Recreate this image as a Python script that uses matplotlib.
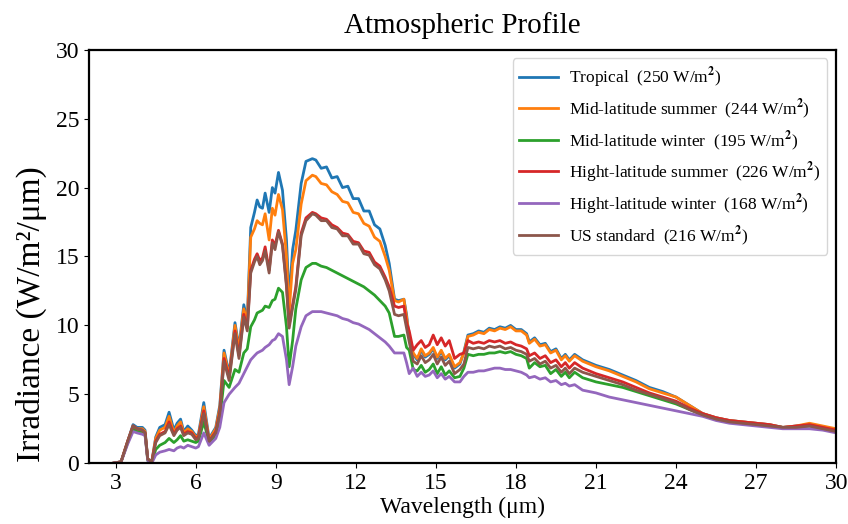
# Plotting script for atmospheric profile irradiance spectra

import numpy as np
import matplotlib.pyplot as plt

plt.rcParams['font.family'] = ['Liberation Serif', 'DejaVu Serif']
plt.rcParams['mathtext.fontset'] = 'stix'

# Wavelength grid (um)
wavelength = [2.9, 3.2, 3.45, 3.65, 3.8, 4.0, 4.1, 4.2, 4.35, 4.5, 4.65, 4.85, 5.0, 5.18, 5.3, 5.43, 5.55, 5.7, 5.85, 6.0, 6.1, 6.3, 6.5, 6.75, 6.9,
              7.06, 7.25, 7.47, 7.62, 7.8, 7.93, 8.06, 8.2, 8.3, 8.4, 8.5, 8.6, 8.75, 8.87, 8.97, 9.1, 9.25, 9.4, 9.5, 9.63, 9.75, 9.95, 10.13, 10.37,
              10.5, 10.7, 10.9, 11.1, 11.3, 11.5, 11.7, 11.9, 12.1, 12.3, 12.5, 12.7, 12.9, 13.1, 13.25, 13.45, 13.6, 13.8, 13.9,
              14.0, 14.15, 14.3, 14.45, 14.6, 14.75, 14.9, 15.05, 15.2, 15.35, 15.5, 15.7, 15.9, 16.05, 16.2, 16.4, 16.6, 16.8, 17.0, 17.2, 17.4, 17.6, 17.8, 18.0, 18.2, 18.4, 18.5, 18.7, 18.9, 19.1, 19.3, 19.5, 19.7, 19.85, 20.0, 20.2,
              20.5, 21, 21.5, 22, 22.5, 23, 23.5, 24, 24.5, 25, 25.5, 26, 26.5, 27, 27.5, 28, 28.5, 29, 29.5, 30]

# Irradiance (W/m2/um) for each profile
tropical = [0.0, 0.1, 1.6, 2.8, 2.6, 2.6, 2.4, 0.3, 0.1, 1.9, 2.6, 2.8, 3.7, 2.4, 2.9, 3.2, 2.3, 2.7, 2.4, 2.0, 2.1, 4.4, 1.8, 2.6, 4.2,
            8.2, 6.5, 10.2, 8.4, 11.5, 10.4, 17.1, 18.2, 19.1, 18.6, 18.5, 19.6, 18.2, 20.0, 19.6, 21.1, 19.8, 16.2, 11.8, 15.5, 16.9, 20.3, 21.9, 22.1,
            22.0, 21.4, 21.5, 20.7, 20.8, 20.0, 20.1, 19.2, 19.2, 18.3, 18.3, 17.3, 17.0, 15.8, 14.5, 11.9, 11.8, 11.9, 10.8,
            9.1, 7.9, 7.5, 8.2, 7.7, 7.9, 8.3, 7.6, 8.1, 7.5, 7.8, 6.9, 7.2, 8.1, 9.3, 9.4, 9.6, 9.5, 9.8, 9.7, 9.9, 9.8, 10.0, 9.7, 9.7, 9.4, 8.8, 9.1, 8.6, 8.7, 8.1, 8.3, 7.6, 7.9, 7.5, 7.9,
            7.5, 7.1, 6.8, 6.4, 6.0, 5.5, 5.2, 4.8, 4.2, 3.6, 3.3, 3.1, 3.0, 2.9, 2.8, 2.6, 2.7, 2.8, 2.6, 2.4]
mid_lat_summer = [0.0, 0.1, 1.6, 2.7, 2.5, 2.5, 2.3, 0.3, 0.1, 1.8, 2.4, 2.6, 3.4, 2.2, 2.7, 3.0, 2.2, 2.5, 2.3, 1.9, 2.0, 4.1, 1.7, 2.5, 4.0,
                  8.0, 6.3, 10.0, 8.2, 11.2, 10.2, 16.4, 17.0, 17.6, 17.4, 17.3, 18.1, 16.2, 18.5, 18.0, 19.5, 18.4, 15.0, 11.0, 14.5, 15.5, 18.8, 20.5, 20.9,
                  20.8, 20.3, 20.2, 19.7, 19.5, 19.0, 18.9, 18.2, 18.1, 17.4, 17.2, 16.4, 16.1, 15.0, 14.0, 11.8, 11.7, 11.9, 10.6,
                  9.2, 8.0, 7.6, 8.3, 7.8, 8.0, 8.4, 7.7, 8.2, 7.6, 7.9, 7.0, 7.3, 8.0, 9.2, 9.3, 9.5, 9.4, 9.7, 9.6, 9.8, 9.7, 9.9, 9.6, 9.6, 9.3, 8.7, 9.0, 8.5, 8.6, 8.0, 8.2, 7.5, 7.8, 7.4, 7.8,
                  7.4, 7.0, 6.7, 6.3, 5.9, 5.4, 5.1, 4.8, 4.2, 3.6, 3.3, 3.1, 3.0, 2.9, 2.8, 2.6, 2.7, 2.9, 2.7, 2.5]
mid_lat_winter = [0.0, 0.1, 1.5, 2.5, 2.3, 2.3, 2.1, 0.2, 0.0, 1.0, 1.3, 1.5, 1.8, 1.5, 1.7, 2.0, 1.6, 1.7, 1.6, 1.5, 1.6, 3.0, 1.5, 2.0, 3.2,
                  6.0, 5.5, 6.8, 6.6, 8.0, 8.3, 9.9, 10.4, 10.9, 11.0, 11.1, 11.4, 11.3, 11.8, 11.9, 12.7, 12.4, 9.9, 7.0, 8.9, 11.2, 13.3, 14.2, 14.5,
                  14.5, 14.3, 14.2, 14.0, 13.8, 13.6, 13.4, 13.2, 13.0, 12.8, 12.5, 12.2, 11.8, 11.4, 10.9, 9.2, 9.2, 9.3, 8.4,
                  8.2, 6.8, 6.7, 7.1, 6.6, 6.8, 7.2, 6.5, 7.0, 6.4, 6.7, 6.2, 6.3, 6.9, 7.9, 7.8, 7.9, 7.9, 8.0, 8.0, 8.1, 8.0, 8.1, 7.9, 7.8, 7.6, 6.9, 7.3, 7.0, 7.1, 6.5, 6.8, 6.3, 6.6, 6.2, 6.6,
                  6.2, 5.9, 5.7, 5.5, 5.2, 4.9, 4.6, 4.3, 3.9, 3.5, 3.2, 3.0, 2.9, 2.8, 2.7, 2.6, 2.6, 2.7, 2.5, 2.3]
high_lat_summer = [0.0, 0.1, 1.6, 2.7, 2.5, 2.4, 2.2, 0.3, 0.1, 1.6, 2.1, 2.3, 3.0, 2.1, 2.5, 2.7, 2.1, 2.3, 2.2, 1.8, 1.9, 3.8, 1.6, 2.3, 3.7,
                   7.6, 6.2, 9.6, 7.8, 10.8, 9.8, 14.0, 14.8, 15.2, 14.7, 14.9, 15.7, 14.0, 16.2, 15.8, 16.9, 15.9, 13.0, 10.0, 11.5, 12.8, 16.7, 17.8, 18.2,
                   18.1, 17.8, 17.7, 17.3, 17.1, 16.7, 16.6, 16.1, 16.0, 15.4, 15.3, 14.6, 14.3, 13.5, 12.8, 11.4, 11.3, 11.4, 10.2,
                   9.6, 8.2, 8.6, 8.9, 8.4, 8.6, 9.3, 8.6, 9.1, 8.5, 8.9, 7.6, 7.9, 8.0, 8.9, 8.7, 8.8, 8.7, 8.9, 8.8, 8.9, 8.7, 8.8, 8.6, 8.5, 8.3, 7.8, 8.0, 7.6, 7.8, 7.3, 7.5, 7.0, 7.3, 6.9, 7.3,
                   6.9, 6.5, 6.2, 5.9, 5.5, 5.1, 4.8, 4.5, 4.0, 3.6, 3.3, 3.1, 3.0, 2.9, 2.8, 2.6, 2.7, 2.8, 2.6, 2.4]
high_lat_winter = [0.0, 0.1, 1.4, 2.3, 2.2, 2.1, 2.0, 0.2, 0.0, 0.6, 0.8, 0.9, 1.0, 0.9, 1.1, 1.2, 1.1, 1.3, 1.2, 1.1, 1.2, 2.2, 1.3, 1.8, 2.6,
                   4.4, 5.0, 5.5, 5.8, 6.5, 7.0, 7.5, 7.8, 8.0, 8.1, 8.2, 8.4, 8.6, 8.9, 9.0, 9.4, 9.2, 7.5, 5.7, 7.0, 8.5, 9.9, 10.7, 11.0,
                   11.0, 11.0, 10.9, 10.8, 10.7, 10.5, 10.4, 10.2, 10.1, 9.9, 9.7, 9.4, 9.1, 8.8, 8.5, 8.0, 8.0, 8.0, 7.3,
                   6.5, 6.9, 6.3, 6.6, 6.3, 6.4, 6.7, 6.2, 6.5, 6.1, 6.3, 5.9, 5.9, 6.3, 6.6, 6.6, 6.7, 6.7, 6.8, 6.9, 6.9, 6.8, 6.8, 6.7, 6.6, 6.4, 6.2, 6.3, 6.1, 6.2, 5.9, 6.0, 5.7, 5.8, 5.6, 5.7,
                   5.3, 5.1, 4.8, 4.6, 4.4, 4.2, 4.0, 3.8, 3.6, 3.4, 3.1, 2.9, 2.8, 2.7, 2.6, 2.5, 2.5, 2.5, 2.4, 2.2]
us_standard = [0.0, 0.1, 1.6, 2.7, 2.5, 2.4, 2.2, 0.3, 0.1, 1.5, 2.0, 2.2, 2.8, 2.0, 2.4, 2.6, 2.0, 2.2, 2.1, 1.7, 1.8, 3.6, 1.6, 2.2, 3.6,
               7.4, 6.0, 9.4, 7.6, 10.6, 9.6, 13.8, 14.6, 15.0, 14.4, 14.7, 15.4, 13.8, 16.0, 15.5, 16.8, 15.8, 12.8, 9.8, 11.3, 12.6, 16.5, 17.6, 18.1,
               18.0, 17.6, 17.6, 17.1, 17.0, 16.5, 16.5, 15.9, 15.9, 15.2, 15.1, 14.4, 14.1, 13.3, 12.5, 10.8, 10.7, 10.8, 9.8,
               8.8, 7.4, 7.2, 7.8, 7.3, 7.5, 7.9, 7.2, 7.7, 7.1, 7.4, 6.5, 6.8, 7.2, 8.4, 8.3, 8.4, 8.3, 8.5, 8.4, 8.5, 8.3, 8.4, 8.2, 8.1, 7.9, 7.4, 7.6, 7.2, 7.4, 6.9, 7.1, 6.6, 6.9, 6.5, 6.9,
               6.6, 6.3, 6.0, 5.7, 5.3, 5.0, 4.7, 4.4, 3.9, 3.5, 3.2, 3.0, 2.9, 2.8, 2.7, 2.6, 2.6, 2.7, 2.5, 2.3]

labels = ["Tropical  (250 W/m$^\\mathbf{2}$)",
          "Mid-latitude summer  (244 W/m$^\\mathbf{2}$)",
          "Mid-latitude winter  (195 W/m$^\\mathbf{2}$)",
          "Hight-latitude summer  (226 W/m$^\\mathbf{2}$)",
          "Hight-latitude winter  (168 W/m$^\\mathbf{2}$)",
          "US standard  (216 W/m$^\\mathbf{2}$)"]

series = [tropical, mid_lat_summer, mid_lat_winter, high_lat_summer, high_lat_winter, us_standard]

fig, ax = plt.subplots(figsize=(8.48, 5.24), dpi=100)
fig.subplots_adjust(left=0.105, right=0.986, bottom=0.116, top=0.905)

for s, lab in zip(series, labels):
    ax.plot(wavelength, s, lw=2, label=lab)

ax.set_xlim(2, 30)
ax.set_ylim(0, 30)
ax.set_xticks(np.arange(3, 31, 3))
ax.set_yticks(np.arange(0, 31, 5))
ax.tick_params(labelsize=17)
for sp in ax.spines.values():
    sp.set_linewidth(1.6)

ax.set_title("Atmospheric Profile", fontsize=21, pad=12)
ax.set_xlabel("Wavelength (μm)", fontsize=17, labelpad=2)
ax.set_ylabel("Irradiance (W/m²/μm)", fontsize=24)
ax.yaxis.set_label_coords(-0.056, 0.36)
ax.legend(loc="upper right", fontsize=12.5, labelspacing=0.42, handlelength=2.2,
          handletextpad=0.65)

plt.savefig("out.png")
